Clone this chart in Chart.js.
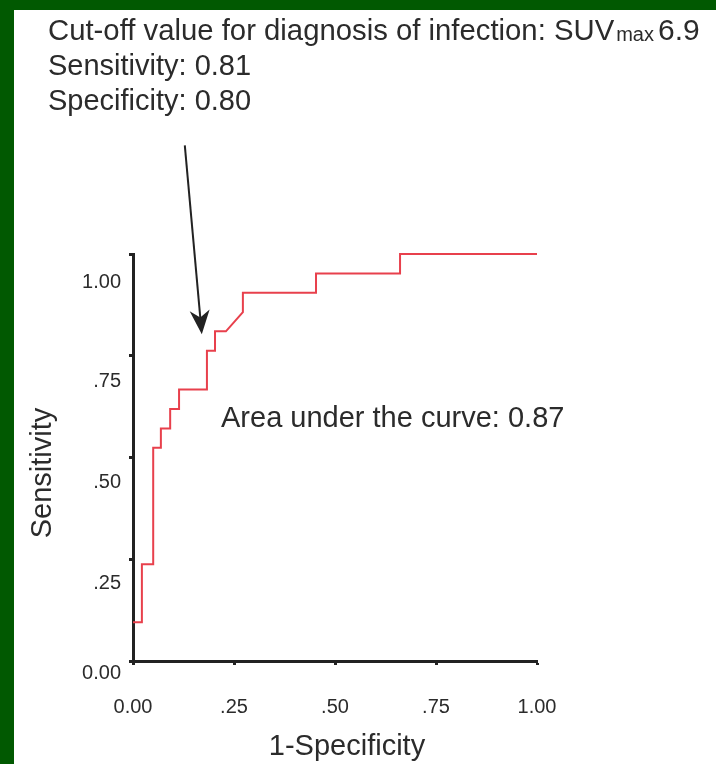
<!DOCTYPE html>
<html>
<head>
<meta charset="utf-8">
<script src="https://cdn.jsdelivr.net/npm/chart.js@4/dist/chart.umd.min.js"></script>
<style>
  html, body { margin: 0; padding: 0; background: #fff; }
  #wrap { width: 716px; height: 764px; }
</style>
</head>
<body>
<div id="wrap"><canvas id="roc" width="716" height="764"></canvas></div>
<script>
// ROC curve corners (1-specificity, sensitivity)
var fpr = [0, 0.022, 0.022, 0.050, 0.050, 0.069, 0.069, 0.092, 0.092, 0.114, 0.114, 0.183,
           0.183, 0.203, 0.203, 0.230, 0.272, 0.272, 0.453, 0.453, 0.661, 0.661, 1.00];
var tpr = [0.095, 0.095, 0.238, 0.238, 0.524, 0.524, 0.571, 0.571, 0.619, 0.619, 0.667, 0.667,
           0.762, 0.762, 0.810, 0.810, 0.857, 0.905, 0.905, 0.952, 0.952, 1.00, 1.00];

var xTickLabels = ['0.00', '.25', '.50', '.75', '1.00'];
var yTickValues = [0, 0.25, 0.5, 0.75, 1];
var yTickLabels = ['0.00', '.25', '.50', '.75', '1.00'];

var cutoffFpr = 0.20;
var cutoffTpr = 0.81;

var FONT = '"Liberation Sans", Arial, Helvetica, sans-serif';
var TXT = '#2b2b2b';

var points = [];
for (var i = 0; i < fpr.length; i++) points.push({ x: fpr[i], y: tpr[i] });

var deco = {
  id: 'deco',
  beforeDraw: function (chart) {
    var c = chart.ctx;
    c.save();
    c.fillStyle = '#015901';
    c.fillRect(0, 0, chart.width, chart.height);
    c.fillStyle = '#ffffff';
    c.fillRect(14, 10, chart.width - 14, chart.height - 10);
    c.restore();
  },
  afterDraw: function (chart) {
    var c = chart.ctx;
    var xs = chart.scales.x, ys = chart.scales.y;
    c.save();
    c.fillStyle = TXT;

    // y tick labels (sit below their tick marks in the original)
    var shift = [12, 24, 25, 26, 28];
    c.font = '20px ' + FONT;
    c.textAlign = 'right';
    c.textBaseline = 'middle';
    for (var i = 0; i < yTickValues.length; i++) {
      c.fillText(yTickLabels[i], 121, ys.getPixelForValue(yTickValues[i]) + shift[i]);
    }

    // axis titles
    c.font = '29px ' + FONT;
    c.textAlign = 'center';
    c.textBaseline = 'alphabetic';
    c.fillText('1-Specificity', 347, 755);
    c.save();
    c.translate(51, 473);
    c.rotate(-Math.PI / 2);
    c.fillText('Sensitivity', 0, 0);
    c.restore();

    // annotation text
    c.textAlign = 'left';
    c.fillText('Area under the curve: 0.87', 221, 427);
    var s1 = 'Cut-off value for diagnosis of infection: SUV';
    c.font = '29.3px ' + FONT;
    c.fillText(s1, 48, 40);
    var w = c.measureText(s1).width;
    c.font = '20px ' + FONT;
    c.fillText('max', 48 + w + 2, 41);
    var w2 = c.measureText('max').width;
    c.font = '30px ' + FONT;
    c.fillText('6.9', 48 + w + w2 + 6, 40);
    c.font = '29px ' + FONT;
    c.fillText('Sensitivity: 0.81', 48, 75);
    c.fillText('Specificity: 0.80', 48, 110);

    // arrow to cut-off point
    var tx = xs.getPixelForValue(cutoffFpr) - 12;
    var ty = ys.getPixelForValue(cutoffTpr) + 3;
    var sx = tx - 17, sy = ty - 189;
    var dx = tx - sx, dy = ty - sy, len = Math.sqrt(dx * dx + dy * dy);
    var ux = dx / len, uy = dy / len, nx = -uy, ny = ux;
    c.strokeStyle = '#222';
    c.lineWidth = 2;
    c.beginPath();
    c.moveTo(sx, sy);
    c.lineTo(tx - ux * 14, ty - uy * 14);
    c.stroke();
    c.fillStyle = '#222';
    c.beginPath();
    c.moveTo(tx, ty);
    c.lineTo(tx - ux * 24 + nx * 10, ty - uy * 24 + ny * 10);
    c.lineTo(tx - ux * 17, ty - uy * 17);
    c.lineTo(tx - ux * 24 - nx * 10, ty - uy * 24 - ny * 10);
    c.closePath();
    c.fill();
    c.restore();
  }
};

new Chart(document.getElementById('roc'), {
  type: 'line',
  data: {
    datasets: [{
      data: points,
      borderColor: '#e8404c',
      borderWidth: 2,
      pointRadius: 0,
      tension: 0,
      fill: false,
      clip: false
    }]
  },
  options: {
    responsive: false,
    animation: false,
    layout: { padding: { top: 254, right: 179, left: 0, bottom: 0 } },
    plugins: { legend: { display: false }, tooltip: { enabled: false } },
    scales: {
      x: {
        type: 'linear',
        min: 0, max: 1,
        afterFit: function (s) { s.height = 103; },
        border: { display: true, color: '#222', width: 3 },
        grid: { drawOnChartArea: false, drawTicks: true, tickLength: 4, tickWidth: 3, tickColor: '#222' },
        ticks: {
          stepSize: 0.25,
          padding: 30,
          color: TXT,
          font: { family: FONT, size: 20 },
          maxRotation: 0,
          callback: function (v, i) { return xTickLabels[i]; }
        }
      },
      y: {
        type: 'linear',
        min: 0, max: 1,
        afterFit: function (s) { s.width = 133; },
        border: { display: true, color: '#222', width: 3 },
        grid: { drawOnChartArea: false, drawTicks: true, tickLength: 4, tickWidth: 3, tickColor: '#222' },
        ticks: { stepSize: 0.25, display: false }
      }
    }
  },
  plugins: [deco]
});
</script>
</body>
</html>
